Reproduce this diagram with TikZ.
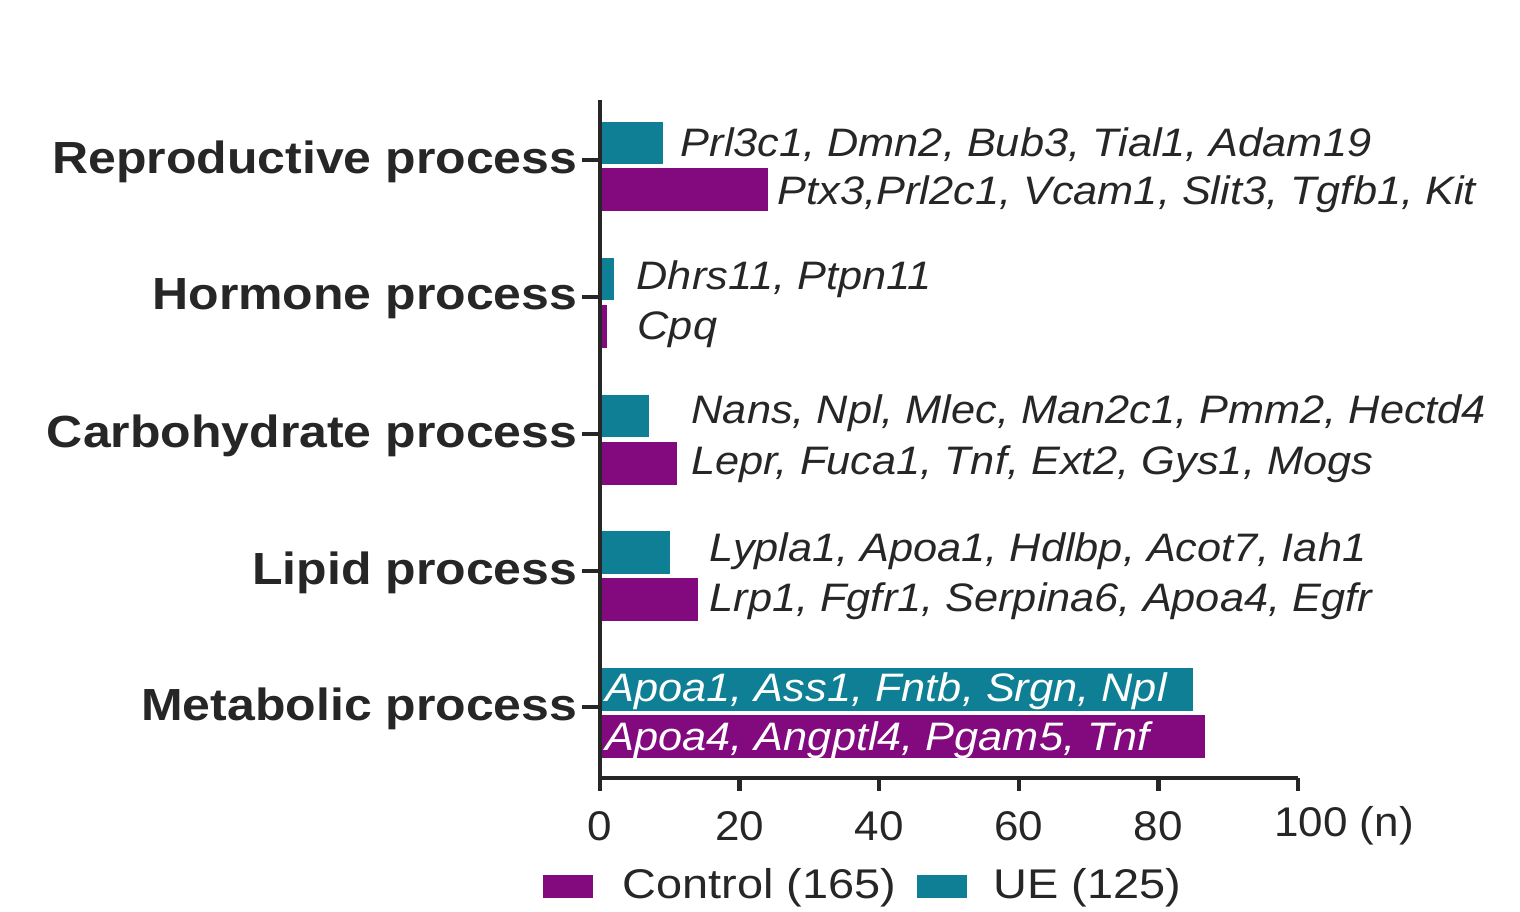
\documentclass[tikz,border=0pt]{standalone}
\usepackage{fontspec}
\setmainfont{Liberation Sans}
\newfontfamily\catf[FakeStretch=1.11]{Liberation Sans}
\newfontfamily\genef[FakeStretch=1.09]{Liberation Sans}
\newfontfamily\legf[FakeStretch=1.13]{Liberation Sans}
\newfontfamily\tickf[FakeStretch=1.06]{Liberation Sans}
\definecolor{tealc}{HTML}{0E7F95}
\definecolor{purc}{HTML}{820A7E}
\begin{document}
\begin{tikzpicture}[x=0.01cm,y=-0.01cm,
  cat/.style={anchor=east,inner sep=0pt,font=\catf\fontsize{12.8pt}{14pt}\selectfont\bfseries,text=black!85},
  gene/.style={anchor=west,font=\genef\fontsize{11.3pt}{13pt}\selectfont\itshape,inner sep=0pt,text=black!85},
  tl/.style={font=\tickf\fontsize{11.8pt}{13pt}\selectfont,text=black!85},
  lg/.style={anchor=west,inner sep=0pt,font=\legf\fontsize{11.8pt}{13pt}\selectfont,text=black!85},
  tb/.style={fill=tealc,draw=none},
  pb/.style={fill=purc,draw=none},
  axis/.style={line width=1.2pt,black!85}]
\useasboundingbox (0,0) rectangle (1520,912);
\fill[white] (0,0) rectangle (1520,912);
% bars
\fill[tb] (600,122) rectangle (663,164);
\fill[pb] (600,168) rectangle (768,211);
\fill[tb] (600,258) rectangle (614,300);
\fill[pb] (600,305) rectangle (607,348);
\fill[tb] (600,395) rectangle (649,437);
\fill[pb] (600,442) rectangle (677,485);
\fill[tb] (600,531) rectangle (670,574);
\fill[pb] (600,578) rectangle (698,621);
\fill[tb] (600,668) rectangle (1193,711);
\fill[pb] (600,715) rectangle (1205,758);
% axes
\coordinate (o) at (600,778);
\coordinate (top) at (600,100);
\coordinate (xe) at (1298,778);
\draw[axis] (top) -- (o) -- (xe);
\foreach \yy/\lab/\nm in {160/Reproductive process/c1,297/Hormone process/c2,434/Carbohydrate process/c3,571/Lipid process/c4,707/Metabolic process/c5}{
  \draw[axis] (582,\yy) -- (600,\yy);
  \node[cat] (\nm) at (578,\yy+2) {\lab};
}
\foreach \v in {0,20,40,60,80,100}{
  \draw[axis] (600+6.98*\v,778) -- (600+6.98*\v,791);
}
\foreach \v in {0,20,40,60,80}{
  \node[tl] (t\v) at (600+6.98*\v,826) {\v};
}
\node[tl,anchor=west] (t100) at (1262,826) {100 (n)};
% gene labels
\node[gene] (g1) at (680,145) {Prl3c1, Dmn2, Bub3, Tial1, Adam19};
\node[gene] (g2) at (777,194) {Ptx3,Prl2c1, Vcam1, Slit3, Tgfb1, Kit};
\node[gene] (g3) at (636,279) {Dhrs11, Ptpn11};
\node[gene] (g4) at (637,330) {Cpq};
\node[gene] (g5) at (691,413) {Nans, Npl, Mlec, Man2c1, Pmm2, Hectd4};
\node[gene] (g6) at (691,464) {Lepr, Fuca1, Tnf, Ext2, Gys1, Mogs};
\node[gene] (g7) at (709,551) {Lypla1, Apoa1, Hdlbp, Acot7, Iah1};
\node[gene] (g8) at (709,601) {Lrp1, Fgfr1, Serpina6, Apoa4, Egfr};
\node[gene,text=white] (g9) at (605,691) {Apoa1, Ass1, Fntb, Srgn, Npl};
\node[gene,text=white] (g10) at (605,740) {Apoa4, Angptl4, Pgam5, Tnf};
% legend
\fill[pb] (543,875) rectangle (593,898);
\node[lg] (l1) at (622,888) {Control (165)};
\fill[tb] (917,875) rectangle (967,898);
\node[lg] (l2) at (993,888) {UE (125)};
\end{tikzpicture}
\end{document}
